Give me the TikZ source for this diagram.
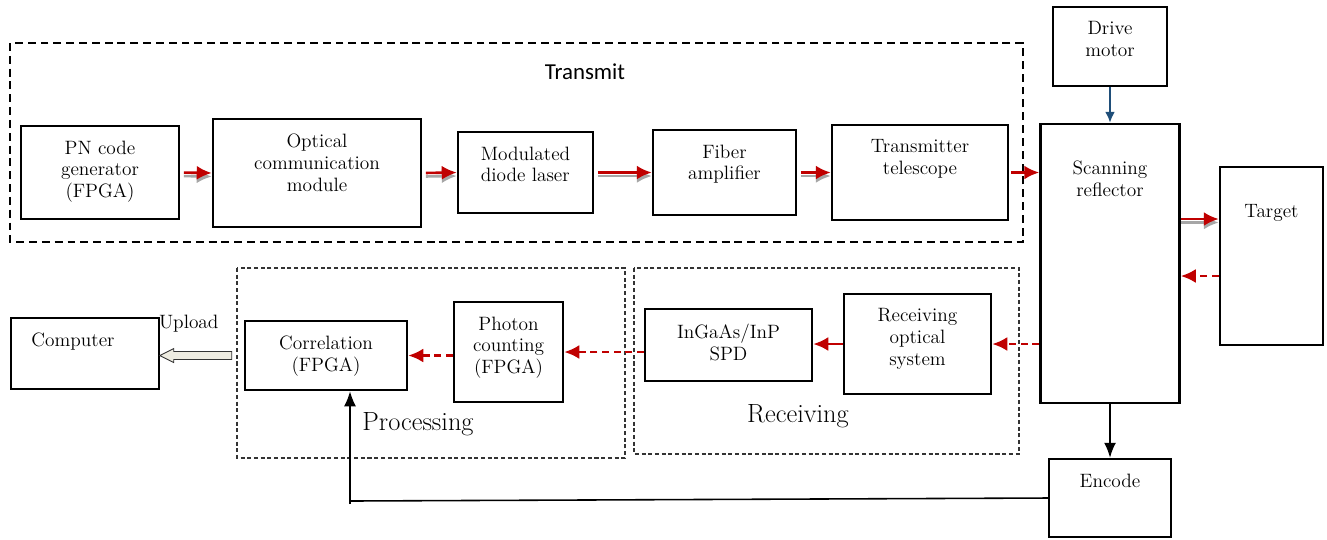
\documentclass[tikz,border=0pt]{standalone}
\usepackage{fontspec}
\newfontfamily\calfont{Carlito}
\usetikzlibrary{positioning, calc, arrows.meta}
\definecolor{RedLine}{HTML}{C00000}
\definecolor{Shade}{HTML}{A6A6A6}
\definecolor{Motor}{HTML}{1F4E79}
\definecolor{Beige}{HTML}{EEECE1}
\definecolor{Frame}{HTML}{333333}
\tikzset{
    blk/.style={rectangle, draw=black, line width=1.45pt, inner sep=0pt},
    tlbl/.style={anchor=north, inner sep=0pt, align=center, yshift=-0.31cm, font=\fontsize{11}{12.5}\selectfont},
    redarr/.style={-{Latex[length=0.3cm, width=0.28cm]}, draw=RedLine, line width=1.5pt},
    reddash/.style={redarr, dash pattern=on 4pt off 2.6pt},
    shadearr/.style={-{Latex[length=0.3cm, width=0.28cm]}, draw=Shade, line width=1.5pt, transform canvas={yshift=-0.07cm}},
    blackarr/.style={-{Latex[length=0.3cm, width=0.24cm]}, draw=black, line width=0.9pt},
    grpT/.style={draw=black, line width=1.1pt, dash pattern=on 4.5pt off 2.8pt},
    grp/.style={draw=Frame, line width=0.6pt, dash pattern=on 2.3pt off 1.5pt},
}
\begin{document}
\begin{tikzpicture}[x=0.02cm, y=-0.02cm]
    \useasboundingbox (0,0) rectangle (1327,539);

    % 1. Transmit
    \draw[grpT] (10,43) rectangle (1023,242);
    \node[font=\calfont\fontsize{13}{15}\selectfont] (ttl) at (585,72) {Transmit};

    \node[blk, minimum width=3.16cm, minimum height=1.86cm, label={[tlbl]90:PN code\\generator\\(FPGA)}] (pn) at (100,172.5) {};
    \node[blk, minimum width=4.16cm, minimum height=2.16cm, label={[tlbl]90:Optical\\communication\\module}] (ocm) at (317,173) {};
    \node[blk, minimum width=2.70cm, minimum height=1.62cm, label={[tlbl, align=left]90:Modulated\\diode laser}] (mdl) at (525.5,172.5) {};
    \node[blk, minimum width=2.86cm, minimum height=1.70cm, label={[tlbl]90:Fiber\\amplifier}] (fa) at (724.5,172.5) {};
    \node[blk, minimum width=3.52cm, minimum height=1.90cm, label={[tlbl]90:Transmitter\\telescope}] (tt) at (920,172.5) {};

    % 2. Scanner, target
    \node[blk, minimum width=2.28cm, minimum height=1.58cm, label={[tlbl]90:Drive\\motor}] (dm) at (1110,46.5) {};
    \node[blk, minimum width=2.78cm, minimum height=5.58cm, label={[tlbl, yshift=-0.44cm]90:Scanning\\reflector}] (sr) at (1110,263.5) {};
    \node[blk, minimum width=2.06cm, minimum height=3.56cm, label={[tlbl, yshift=-0.46cm]90:Target}] (tg) at (1271.5,256) {};
    \node[blk, minimum width=2.44cm, minimum height=1.56cm, label={[tlbl]90:Encode}] (enc) at (1110,498) {};

    % 3. Receiving
    \draw[grp] (634,268) rectangle (1019,454);
    \node[font=\fontsize{15}{17}\selectfont] (rcv) at (798,416) {Receiving};
    \node[blk, minimum width=2.94cm, minimum height=2.00cm, label={[tlbl]90:Receiving\\optical\\system}] (ros) at (917.5,344) {};
    \node[blk, minimum width=3.34cm, minimum height=1.44cm, label={[tlbl]90:InGaAs/InP\\SPD}] (spd) at (728.5,345) {};

    % 4. Processing
    \draw[grp] (237,268) rectangle (625,458);
    \node[font=\fontsize{15}{17}\selectfont] (prc) at (418,424) {Processing};
    \node[blk, minimum width=2.18cm, minimum height=2.00cm, label={[tlbl]90:Photon\\counting\\(FPGA)}] (pc) at (508.5,352) {};
    \node[blk, minimum width=3.24cm, minimum height=1.38cm, label={[tlbl]90:Correlation\\(FPGA)}] (corr) at (326,355.5) {};

    \node[blk, minimum width=2.96cm, minimum height=1.42cm, label={[tlbl, xshift=-0.24cm]90:Computer}] (comp) at (85,353.5) {};

    % Frecce di trasmissione (con ombra)
    \foreach \a/\b in {pn/ocm, ocm/mdl, mdl/fa, fa/tt} {
        \draw[shadearr, shorten <=2pt] (\a.east) -- (\b.west);
        \draw[redarr, shorten <=2pt] (\a.east) -- (\b.west);
    }
    \draw[redarr, shorten <=1pt] (tt.east) -- (tt.east -| sr.west);

    \coordinate (out) at ([yshift=0.74cm]tg.west);
    \coordinate (back) at ([yshift=-0.40cm]tg.west);
    \draw[shadearr] (out -| sr.east) -- (out);
    \draw[redarr] (out -| sr.east) -- (out);
    \draw[reddash] (back) -- (back -| sr.east);

    % Percorso di ricezione
    \draw[reddash] (ros.east -| sr.west) -- (ros.east);
    \draw[redarr] (ros.west) -- (ros.west -| spd.east);
    \draw[reddash] (pc.east -| spd.west) -- (pc.east);
    \draw[reddash] (corr.east -| pc.west) -- (corr.east);

    % Upload
    \draw[fill=Beige, draw=Frame, line width=0.5pt] ([xshift=-0.24cm]corr.west) ++(0,-4) -- ++(-58,0) -- ++(0,-3) -- ++(-14,7) -- ++(14,7) -- ++(0,-3) -- ++(58,0) -- cycle;
    \node[font=\fontsize{11}{12.5}\selectfont] (upl) at ([xshift=-1.1cm, yshift=0.63cm]corr.west) {Upload};

    % Motore ed encoder
    \draw[-{Latex[length=0.22cm, width=0.2cm]}, draw=Motor, line width=1.2pt] (dm.south) -- (sr.north);
    \draw[blackarr] (sr.south) -- (enc.north);
    \coordinate (fb) at (350,501);
    \draw[line width=0.9pt] (enc.west) -- (fb);
    \draw[blackarr] ([yshift=-0.06cm]fb) -- (fb |- corr.south);

\end{tikzpicture}
\end{document}
